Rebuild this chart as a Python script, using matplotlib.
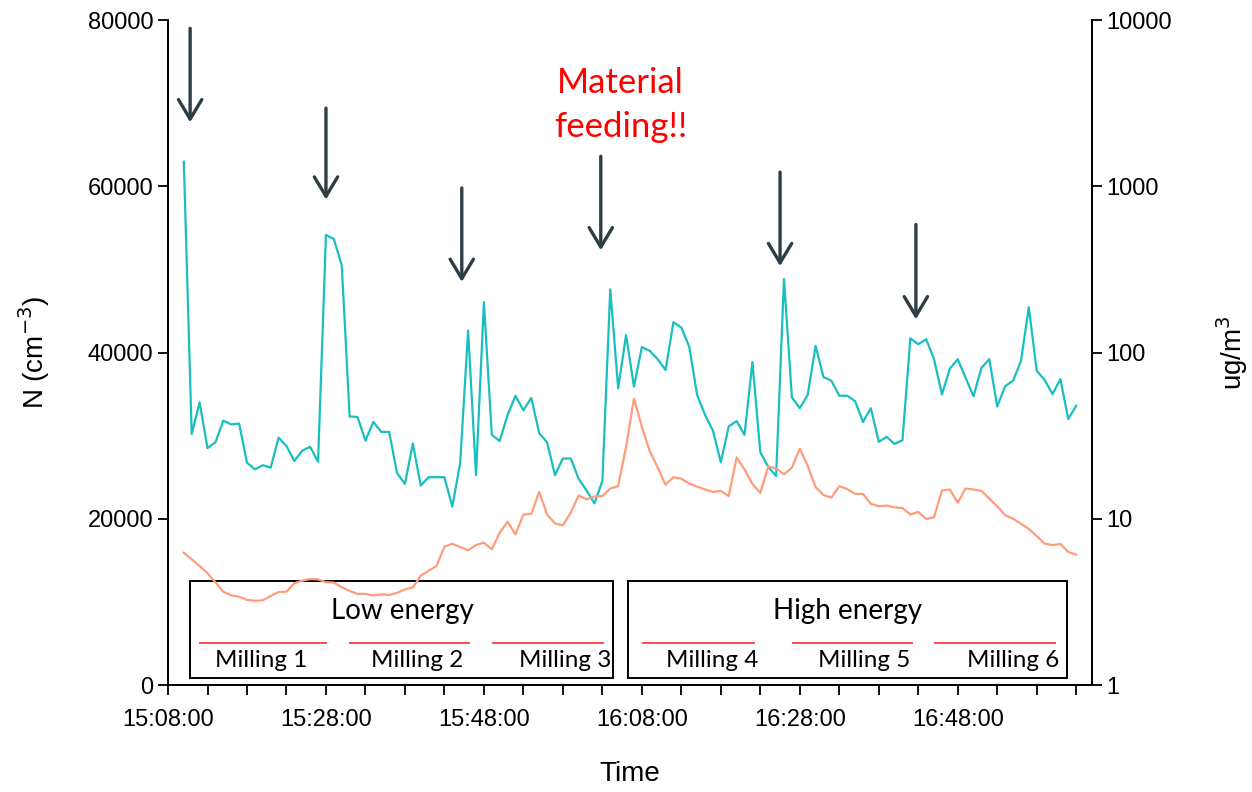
import numpy as np
import matplotlib
matplotlib.use("Agg")
import matplotlib.pyplot as plt
from matplotlib.patches import Rectangle
from matplotlib.ticker import FuncFormatter, MultipleLocator, LogLocator, NullLocator

# minutes after 15:08:00, one sample per minute
minutes = np.arange(2, 116)

# particle number concentration (cm^-3)
number_conc = [
    62960, 30200, 34000, 28500, 29200, 31800, 31350, 31450, 26750, 25950,
    26450, 26150, 29750, 28750, 26950, 28200, 28650, 26850, 54150, 53650,
    50500, 32300, 32250, 29400, 31650, 30450, 30450, 25500, 24200, 29050,
    24000, 25000, 25000, 25000, 21450, 26750, 42650, 25250, 46050, 30100,
    29350, 32500, 34800, 33050, 34550, 30300, 29200, 25250, 27250, 27250,
    24800, 23400, 21850, 24550, 47600, 35700, 42100, 35900, 40650, 40200,
    39200, 37900, 43650, 43000, 40700, 34900, 32500, 30600, 26800, 31100,
    31750, 30100, 38850, 28000, 26250, 25150, 48850, 34600, 33300, 34900,
    40800, 37050, 36600, 34800, 34800, 34150, 31650, 33300, 29250, 29850,
    29000, 29450, 41700, 41000, 41600, 39200, 34950, 38050, 39200, 36950,
    34750, 38150, 39200, 33500, 35950, 36600, 38950, 45450, 37800, 36700,
    35000, 36800, 32000, 33600,
]

# mass concentration (ug/m^3)
mass_conc = [
    6.25, 5.70, 5.20, 4.70, 4.15, 3.64, 3.46, 3.40, 3.25, 3.21,
    3.23, 3.43, 3.63, 3.64, 4.09, 4.24, 4.34, 4.32, 4.15, 4.13,
    3.87, 3.68, 3.53, 3.53, 3.46, 3.51, 3.48, 3.58, 3.76, 3.86,
    4.54, 4.87, 5.20, 6.79, 7.08, 6.76, 6.46, 6.95, 7.18, 6.55,
    8.24, 9.60, 8.06, 10.6, 10.7, 14.5, 10.6, 9.39, 9.13, 10.9,
    13.8, 13.1, 13.6, 13.7, 15.2, 15.7, 27.1, 52.7, 35.8, 25.5,
    20.4, 16.0, 17.8, 17.4, 16.3, 15.6, 15.0, 14.5, 14.7, 13.7,
    23.4, 19.8, 16.2, 14.3, 20.6, 20.1, 18.5, 20.3, 26.4, 20.8,
    15.5, 13.9, 13.4, 15.7, 15.1, 14.1, 14.1, 12.3, 11.9, 12.0,
    11.7, 11.6, 10.6, 11.0, 9.96, 10.2, 14.8, 15.0, 12.5, 15.2,
    15.0, 14.7, 13.2, 11.9, 10.5, 10.0, 9.34, 8.68, 7.87, 7.08,
    6.95, 7.05, 6.31, 6.08,
]

# feeding events: time, arrow tip level, arrow tail level
feed_times = [2.8, 20.0, 37.2, 54.8, 77.5, 94.7]
feed_tips = [67700, 58400, 48500, 52300, 50400, 44000]
feed_tails = [79000, 69400, 59800, 63600, 61700, 55400]

# milling runs
mill_labels = ["Milling 1", "Milling 2", "Milling 3", "Milling 4", "Milling 5", "Milling 6"]
mill_start = [4.0, 23.0, 41.1, 60.1, 79.1, 97.1]
mill_end = [20.0, 38.1, 55.1, 74.2, 94.2, 112.3]
mill_text_x = [11.8, 31.5, 50.3, 68.9, 88.2, 107.0]

group_labels = ["Low energy", "High energy"]
group_x0 = [2.8, 58.2]
group_x1 = [56.3, 113.8]
group_text_x = [29.7, 86.1]

TEAL = "#19bfbf"
SALMON = "#ff9c7c"
ARROW = "#2c3d44"
LABEL_FONT = ["Lato", "DejaVu Sans"]

plt.rcParams["font.family"] = ["Liberation Sans", "DejaVu Sans"]
plt.rcParams["xtick.direction"] = "out"
plt.rcParams["ytick.direction"] = "out"

fig = plt.figure(figsize=(12.52, 7.92), dpi=100)
ax = fig.add_axes([0.1342, 0.1351, 0.738, 0.8396])
ax2 = ax.twinx()

ax.plot(minutes, number_conc, color=TEAL, lw=1.6, zorder=3)
ax2.plot(minutes, mass_conc, color=SALMON, lw=1.6, zorder=3)

ax.set_xlim(0, 117)
ax.set_ylim(0, 80000)
ax2.set_yscale("log")
ax2.set_ylim(1, 10000)

ax.xaxis.set_major_locator(MultipleLocator(20))
ax.xaxis.set_minor_locator(MultipleLocator(5))
ax.xaxis.set_major_formatter(FuncFormatter(
    lambda m, pos: "%d:%02d:00" % ((15 * 60 + 8 + int(m)) // 60, (15 * 60 + 8 + int(m)) % 60)))
ax.yaxis.set_major_locator(MultipleLocator(20000))
ax.yaxis.set_major_formatter(FuncFormatter(lambda v, pos: "%d" % v))
ax2.yaxis.set_major_locator(LogLocator(base=10, numticks=10))
ax2.yaxis.set_minor_locator(NullLocator())
ax2.yaxis.set_major_formatter(FuncFormatter(lambda v, pos: "%d" % round(v)))

for a in (ax, ax2):
    a.tick_params(axis="both", which="major", length=7, width=1.3, labelsize=17)
    a.tick_params(axis="both", which="minor", length=7, width=1.3)
    a.spines["top"].set_visible(False)
    for s in a.spines.values():
        s.set_linewidth(1.3)
ax.tick_params(axis="x", pad=10)

ax.set_xlabel("Time", fontsize=20, labelpad=22)
ax.set_ylabel("N (cm$^{-3}$)", fontsize=20, labelpad=26)
ax2.set_ylabel("ug/m$^{3}$", fontsize=20, labelpad=30)

# feeding arrows
for t, tip, tail in zip(feed_times, feed_tips, feed_tails):
    ax.annotate("", xy=(t, tip), xytext=(t, tail),
                arrowprops=dict(arrowstyle="->,head_length=0.7,head_width=0.42",
                                mutation_scale=20, lw=2.4, color=ARROW,
                                shrinkA=0, shrinkB=0), zorder=5)

ax.text(57.3, 69800, "Material\nfeeding!!", color="#ff0000", fontsize=25,
        family=LABEL_FONT, ha="center", va="center", linespacing=1.45)

# energy boxes and milling runs
for label, x0, x1, tx in zip(group_labels, group_x0, group_x1, group_text_x):
    ax.add_patch(Rectangle((x0, 840), x1 - x0, 12510 - 840, fill=False,
                           ec="black", lw=1.4, zorder=4))
    ax.text(tx, 8950, label, fontsize=20, family=LABEL_FONT,
            ha="center", va="center", zorder=4)

for label, x0, x1, tx in zip(mill_labels, mill_start, mill_end, mill_text_x):
    ax.plot([x0, x1], [5050, 5050], color="#ff4a4a", lw=1.4, zorder=4)
    ax.text(tx, 2950, label, fontsize=17.5, family=LABEL_FONT,
            ha="center", va="center", zorder=4)

fig.savefig("out.png", dpi=100)
